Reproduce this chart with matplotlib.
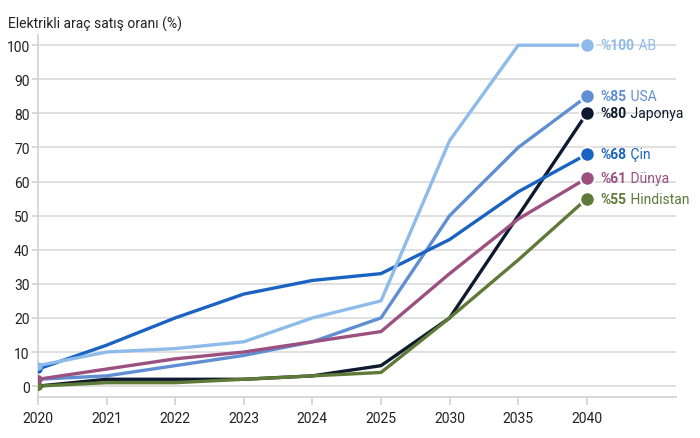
import numpy as np
import matplotlib.pyplot as plt

plt.rcParams['font.family'] = ['Roboto', 'DejaVu Sans']

# Datos
years = ['2020', '2021', '2022', '2023', '2024', '2025', '2030', '2035', '2040']

ab = [6, 10, 11, 13, 20, 25, 72, 100, 100]
usa = [2, 3, 6, 9, 13, 20, 50, 70, 85]
japonya = [0, 2, 2, 2, 3, 6, 20, 50, 80]
cin = [5, 12, 20, 27, 31, 33, 43, 57, 68]
dunya = [2, 5, 8, 10, 13, 16, 33, 49, 61]
hindistan = [0, 1, 1, 2, 3, 4, 20, 37, 55]

names = ['USA', 'Japonya', 'Hindistan', 'Dünya', 'Çin', 'AB']
series = [usa, japonya, hindistan, dunya, cin, ab]
colors = ['#5F8FD2', '#0E1A2E', '#5E7A36', '#9B5080', '#1A63C2', '#8DBBEA']

fig = plt.figure(figsize=(7, 4.39), dpi=100)
ax = fig.add_axes([38 / 700, 1 - 398 / 439, 638 / 700, 362 / 439])

x = np.arange(len(years))
for vals, name, col in zip(series, names, colors):
    ax.plot(x, vals, color=col, linewidth=2.4, solid_capstyle='butt', zorder=3)
    ax.plot(x[0], vals[0], 'o', color=col, markersize=5, zorder=4)
    ax.plot(x[-1], vals[-1], 'o', color=col, markersize=10.5,
            markeredgecolor='white', markeredgewidth=1.5, zorder=5)
    t1 = ax.annotate(f'%{vals[-1]}', xy=(x[-1], vals[-1]), xytext=(10, 0),
                     textcoords='offset points', va='center', ha='left',
                     fontsize=10, fontweight='bold', color=col, zorder=6)
    ax.annotate(f' {name}', xy=(1, 0), xycoords=t1, va='bottom', ha='left',
                fontsize=10, color=col, zorder=6)

ax.set_xlim(0, 9.3)
ax.set_ylim(-3.2, 103)
ax.set_xticks(x)
ax.set_xticklabels(years)
ax.set_yticks(np.arange(0, 101, 10))

ax.grid(axis='y', color='#DDDDDD', linewidth=1.3)
ax.set_axisbelow(True)
for s in ['top', 'right']:
    ax.spines[s].set_visible(False)
for s in ['left', 'bottom']:
    ax.spines[s].set_color('#D5D5D5')
    ax.spines[s].set_linewidth(1.3)
ax.tick_params(axis='both', colors='#D5D5D5', labelcolor='#222222',
               labelsize=10, width=1.3)
ax.tick_params(axis='x', length=6, pad=4)
ax.tick_params(axis='y', length=4, pad=2)

fig.text(8 / 700, 1 - 24 / 439, 'Elektrikli araç satış oranı (%)',
         fontsize=10, color='#222222', va='center', ha='left')

plt.savefig('out.png', dpi=100)
